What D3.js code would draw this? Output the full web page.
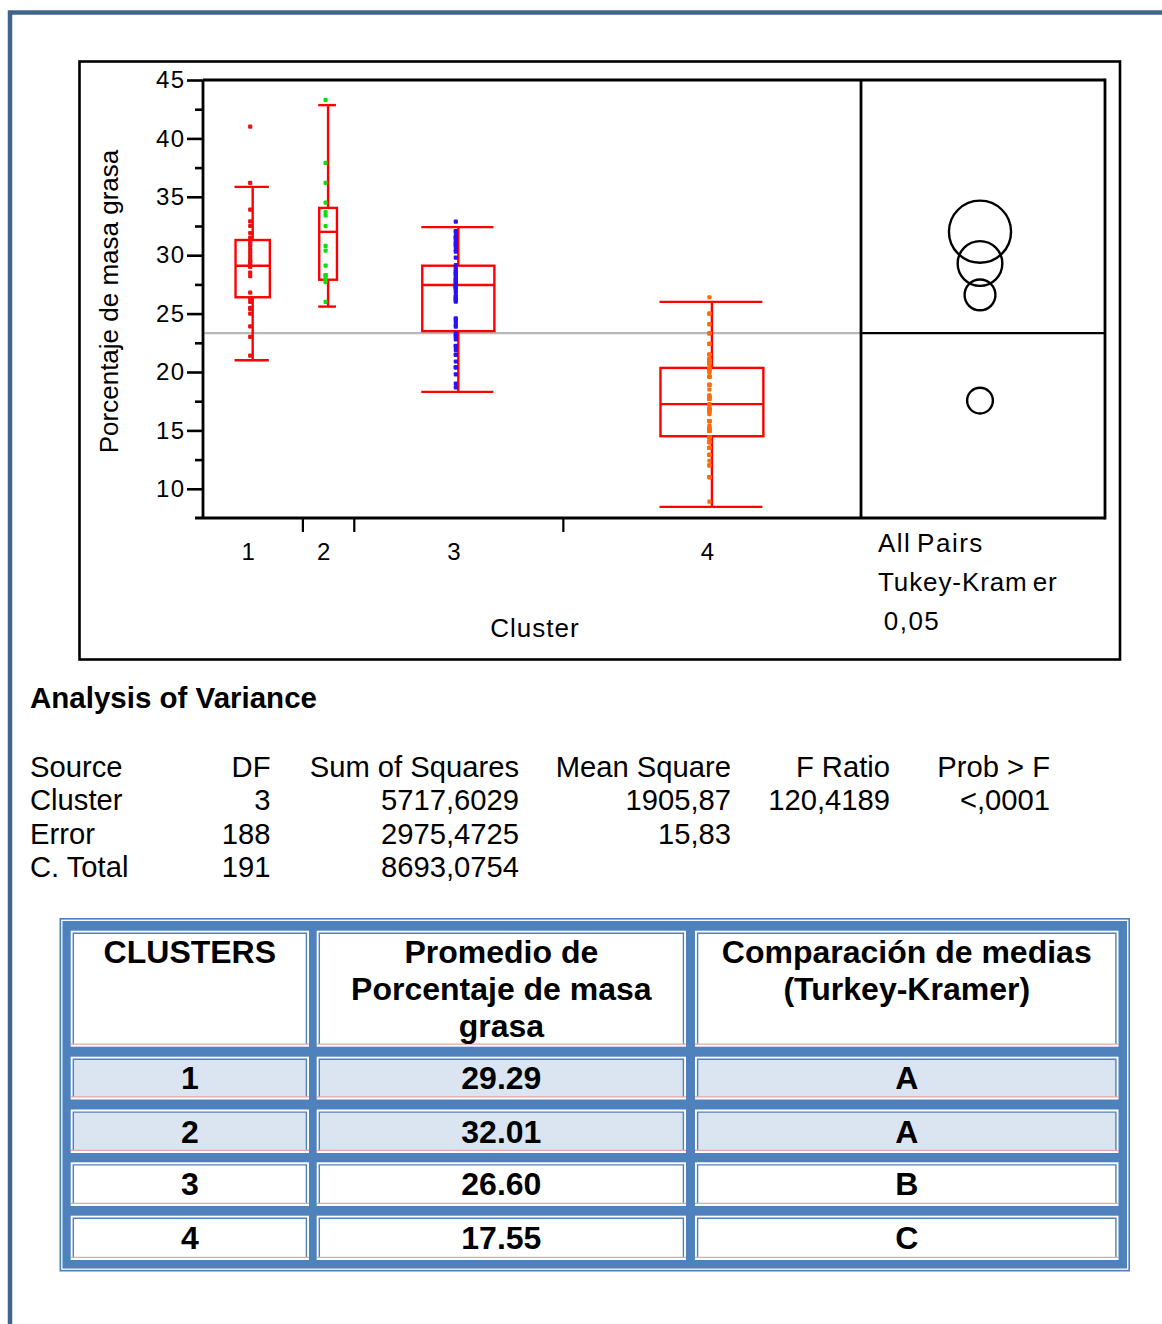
<!DOCTYPE html>
<html>
<head>
<meta charset="utf-8">
<script src="https://cdn.jsdelivr.net/npm/d3@7"></script>
<style>
  html, body { margin: 0; padding: 0; background: #ffffff; }
  svg { display: block; }
  text { font-family: "Liberation Sans", Arial, Helvetica, sans-serif; fill: #000; }
</style>
</head>
<body>
<svg id="page" width="1162" height="1324"></svg>
<script>
// ---------------- data ----------------
const clusters = ["1", "2", "3", "4"];
const clusterN = [29, 15, 61, 87];

const pointsCluster1 = [41.0, 36.2, 33.9, 32.9, 32.5, 31.9, 31.5, 31.2, 31.0, 30.2, 29.9, 29.6, 29.3, 29.0,
  28.5, 28.2, 26.8, 26.0, 25.4, 23.9, 21.4, 23.0, 25.0, 25.5, 26.3, 29.5, 29.1, 30.5, 30.8];
const pointsCluster2 = [43.3, 37.9, 36.2, 34.5, 33.7, 33.4, 32.5, 30.8, 30.4, 29.1, 28.3, 27.7, 26.0, 28.3, 28.0];
const pointsCluster3 = [32.87, 32.07, 31.5, 31.3, 31.07, 30.79, 30.45, 30.3, 29.79, 29.16, 28.59, 28.39, 27.93,
  27.73, 27.3, 27.16, 26.45, 26.22, 26.02, 24.6, 24.3, 24.02, 23.88, 23.08, 22.23, 21.46, 20.4, 18.69,
  32.0, 31.5, 31.0, 31.65, 30.8,
  23.3, 23.1, 22.8, 22.2, 21.9, 21.5, 20.9, 20.4, 19.8, 19.0,
  29.0, 28.8, 28.6, 28.4, 28.2, 28.0, 27.8, 27.6, 27.5, 27.4, 27.3, 27.2, 27.0, 26.8, 26.5, 26.3, 26.1, 24.5];
const pointsCluster4 = [26.4, 25.0, 25.0, 24.1, 24.1, 23.3, 23.3, 22.4, 22.4, 21.5, 21.5, 21.5, 21.1, 21.1,
  21.0, 21.0, 20.9, 20.9, 20.8, 20.8, 20.7, 20.7,
  20.3, 20.3, 20.3, 20.2, 20.2, 20.0, 20.0, 19.6, 19.6, 19.6, 19.6, 18.9, 18.9, 18.9, 18.5, 18.0,
  17.7, 17.7, 17.7, 17.9, 17.9,
  17.26, 17.0, 16.8, 16.8, 16.8, 16.8, 16.4, 16.6, 15.8, 15.8, 15.8, 15.8, 15.4, 15.2, 14.95, 14.95,
  14.95, 14.95, 15.2, 15.0, 15.1, 16.6,
  14.4, 14.4, 14.4, 14.4, 14.4, 14.0, 14.0, 14.0, 14.0, 13.5, 13.5, 13.5, 12.9, 12.9, 12.9, 12.4,
  12.0, 12.0, 11.0, 11.0, 11.0, 8.9];
const pointSeries = [pointsCluster1, pointsCluster2, pointsCluster3, pointsCluster4];

const whiskerLow  = [21.0, 25.6, 18.3, 8.45];
const quartile1   = [26.4, 27.9, 23.5, 14.5];
const medians     = [29.1, 32.0, 27.45, 17.25];
const quartile3   = [31.3, 34.05, 29.1, 20.35];
const whiskerHigh = [35.85, 42.85, 32.4, 26.0];

const meanValues   = [29.29, 32.01, 26.60, 17.55];
const meanLabels   = ["29.29", "32.01", "26.60", "17.55"];
const groupLetters = ["A", "A", "B", "C"];

const yTickValues  = [10, 15, 20, 25, 30, 35, 40, 45];
const yMinorValues = [12.5, 17.5, 22.5, 27.5, 32.5, 37.5, 42.5];

const mse = 15.83;          // Error mean square
const tukeyQStar = 2.588;   // q* for 4 groups, 188 df, alpha 0.05
const legendLines = ["All Pairs", "Tukey-Kram er", " 0,05"];

const anovaHeader = ["Source", "DF", "Sum of Squares", "Mean Square", "F Ratio", "Prob > F"];
const anovaSource = ["Cluster", "Error", "C. Total"];
const anovaDF     = ["3", "188", "191"];
const anovaSS     = ["5717,6029", "2975,4725", "8693,0754"];
const anovaMS     = ["1905,87", "15,83", ""];
const anovaF      = ["120,4189", "", ""];
const anovaP      = ["<,0001", "", ""];

const tableHeaderLines = [["CLUSTERS"], ["Promedio de", "Porcentaje de masa", "grasa"],
  ["Comparación de medias", "(Turkey-Kramer)"]];

// ---------------- styles ----------------
const pointColors = ["#ee1111", "#11dd11", "#2a12f5", "#ff6a0a"];
const boxRed = "#ff0000";
const tableBlue = "#4f81bd";
const lightRow = "#dbe5f1";
const pinkRule = "#e8a4a4";
const FONT = '"Liberation Sans", Arial, Helvetica, sans-serif';

const svg = d3.select("#page");

// page frame
svg.append("rect")
  .attr("x", 10).attr("y", 12.5).attr("width", 1200).attr("height", 1400)
  .attr("fill", "none").attr("stroke", "#41648f").attr("stroke-width", 4.5);

// chart frame
svg.append("rect")
  .attr("x", 79.5).attr("y", 61.5).attr("width", 1040.5).attr("height", 598)
  .attr("fill", "#fff").attr("stroke", "#000").attr("stroke-width", 2.6);

// ---------------- scales ----------------
const plotLeft = 203, plotRight = 861, plotTop = 80, plotBottom = 518, panelRight = 1105;
const y = d3.scaleLinear().domain([7.5, 45]).range([plotBottom, plotTop]);
const totalN = d3.sum(clusterN);
const x = d3.scaleLinear().domain([0, totalN]).range([plotLeft, plotRight]);
const cumN = d3.cumsum(clusterN);
const bandStart = clusterN.map((n, i) => cumN[i] - n);
const centers = clusterN.map((n, i) => bandStart[i] + n / 2);
const grandMean = d3.sum(meanValues.map((m, i) => m * clusterN[i])) / totalN;

const plot = svg.append("g");

// grand mean reference line
plot.append("line")
  .attr("x1", plotLeft).attr("x2", plotRight)
  .attr("y1", y(grandMean)).attr("y2", y(grandMean))
  .attr("stroke", "#b8b8b8").attr("stroke-width", 2.4);

// box plots
const boxes = plot.selectAll("g.box").data(clusters).join("g").attr("class", "box");
boxes.each(function (c, i) {
  const g = d3.select(this);
  const cx = x(centers[i]);
  const w = (x(cumN[i]) - x(bandStart[i])) * 0.345;
  const ln = (x1, y1, x2, y2) => g.append("line")
    .attr("x1", x1).attr("y1", y1).attr("x2", x2).attr("y2", y2)
    .attr("stroke", boxRed).attr("stroke-width", 2.4);
  ln(cx, y(whiskerHigh[i]), cx, y(quartile3[i]));
  ln(cx, y(quartile1[i]), cx, y(whiskerLow[i]));
  ln(cx - w / 2 - 1, y(whiskerHigh[i]), cx + w / 2 - 1, y(whiskerHigh[i]));
  ln(cx - w / 2 - 1, y(whiskerLow[i]), cx + w / 2 - 1, y(whiskerLow[i]));
  g.append("rect")
    .attr("x", cx - w / 2).attr("y", y(quartile3[i]))
    .attr("width", w).attr("height", y(quartile1[i]) - y(quartile3[i]))
    .attr("fill", "none").attr("stroke", boxRed).attr("stroke-width", 2.4);
  ln(cx - w / 2, y(medians[i]), cx + w / 2, y(medians[i]));
});

// data points
pointSeries.forEach((vals, i) => {
  const px = x(centers[i]) - 2.5;
  plot.append("g").selectAll("rect").data(vals).join("rect")
    .attr("x", px - 2.1).attr("y", d => y(d) - 2.1)
    .attr("width", 4.2).attr("height", 4.2).attr("rx", 1)
    .attr("fill", pointColors[i]);
});

// y axis: major and minor ticks
const yAxis = d3.axisLeft(y).tickValues(yTickValues).tickSize(16).tickSizeOuter(0).tickPadding(3)
  .tickFormat(d3.format("d"));
const yAxisG = svg.append("g").attr("transform", `translate(${plotLeft},0)`).call(yAxis);
yAxisG.select(".domain").remove();
yAxisG.selectAll(".tick line").attr("stroke", "#000").attr("stroke-width", 2.6);
yAxisG.selectAll(".tick text").attr("font-size", 24).attr("font-family", FONT)
  .attr("letter-spacing", 1.3).attr("dx", 1.3).attr("fill", "#000");

const yMinorAxis = d3.axisLeft(y).tickValues(yMinorValues).tickSize(8).tickSizeOuter(0).tickFormat("");
const yMinorG = svg.append("g").attr("transform", `translate(${plotLeft},0)`).call(yMinorAxis);
yMinorG.select(".domain").remove();
yMinorG.selectAll(".tick line").attr("stroke", "#000").attr("stroke-width", 2.6);

// axis lines and comparison panel frame
const frame = svg.append("g").attr("stroke", "#000").attr("stroke-width", 2.8).attr("fill", "none");
frame.append("line").attr("x1", plotLeft).attr("x2", panelRight).attr("y1", plotTop).attr("y2", plotTop);
frame.append("line").attr("x1", plotLeft).attr("x2", plotLeft).attr("y1", plotTop).attr("y2", plotBottom);
frame.append("line").attr("x1", 195).attr("x2", panelRight).attr("y1", plotBottom).attr("y2", plotBottom);
frame.append("line").attr("x1", plotRight).attr("x2", plotRight).attr("y1", plotTop).attr("y2", plotBottom);
frame.append("line").attr("x1", panelRight).attr("x2", panelRight).attr("y1", plotTop - 1.4).attr("y2", plotBottom + 1.4);

// x axis: group boundaries as ticks, group labels at band centres
const xBoundAxis = d3.axisBottom(x).tickValues(cumN.slice(0, -1)).tickSize(14).tickSizeOuter(0).tickFormat("");
const xb = svg.append("g").attr("transform", `translate(0,${plotBottom})`).call(xBoundAxis);
xb.select(".domain").remove();
xb.selectAll(".tick line").attr("stroke", "#000").attr("stroke-width", 2.2);

const xLabelAxis = d3.axisBottom(x).tickValues(centers).tickSize(0).tickSizeOuter(0)
  .tickFormat((d, i) => clusters[i]);
const xl = svg.append("g").attr("transform", `translate(-5,${plotBottom})`).call(xLabelAxis);
xl.select(".domain").remove();
xl.selectAll(".tick text").attr("font-size", 24).attr("font-family", FONT).attr("fill", "#000")
  .attr("y", 0).attr("dy", 0).attr("transform", "translate(0,42)");

// axis titles
svg.append("text").attr("x", 535).attr("y", 637).attr("text-anchor", "middle")
  .attr("font-size", 26).attr("letter-spacing", 1).text("Cluster");
svg.append("text").attr("transform", `translate(118,${(150 + 453) / 2}) rotate(-90)`)
  .attr("text-anchor", "middle").attr("font-size", 26).text("Porcentaje de masa grasa");

// comparison circles panel
const circleX = (plotRight + panelRight) / 2 - 3;
svg.append("line").attr("x1", plotRight).attr("x2", panelRight)
  .attr("y1", y(grandMean)).attr("y2", y(grandMean))
  .attr("stroke", "#000").attr("stroke-width", 2.4);
const pxPerUnit = y(0) - y(1);
svg.append("g").selectAll("circle").data(clusters).join("circle")
  .attr("cx", circleX)
  .attr("cy", (c, i) => y(meanValues[i]))
  .attr("r", (c, i) => tukeyQStar * Math.sqrt(mse / clusterN[i]) * pxPerUnit)
  .attr("fill", "none").attr("stroke", "#000").attr("stroke-width", 2.4);

// legend for comparison circles
svg.append("g").selectAll("text").data(legendLines).join("text")
  .attr("x", 878).attr("y", (d, i) => 552 + i * 39)
  .attr("font-size", 26).attr("letter-spacing", (d, i) => i === 1 ? 0.9 : 1.5)
  .attr("word-spacing", -3)
  .attr("xml:space", "preserve").style("white-space", "pre")
  .text(d => d);

// ---------------- analysis of variance ----------------
svg.append("text").attr("x", 30).attr("y", 708).attr("font-size", 29.5).attr("font-weight", "bold")
  .text("Analysis of Variance");

const colRight = [null, 270.5, 519, 731, 890, 1050];
const rowBase = [776.5, 810, 843.5, 877];
const anovaG = svg.append("g").attr("font-size", 29.2);
anovaHeader.forEach((h, j) => {
  anovaG.append("text").attr("x", j === 0 ? 30 : colRight[j]).attr("y", rowBase[0])
    .attr("text-anchor", j === 0 ? "start" : "end").text(h);
});
const anovaCols = [anovaSource, anovaDF, anovaSS, anovaMS, anovaF, anovaP];
anovaSource.forEach((s, r) => {
  anovaCols.forEach((col, j) => {
    if (!col[r]) return;
    anovaG.append("text").attr("x", j === 0 ? 30 : colRight[j]).attr("y", rowBase[r + 1])
      .attr("text-anchor", j === 0 ? "start" : "end").text(col[r]);
  });
});

// ---------------- summary table ----------------
const tbl = svg.append("g");
const tX0 = 59.5, tY0 = 918, tX1 = 1130, tY1 = 1271.5;
tbl.append("rect").attr("x", tX0).attr("y", tY0).attr("width", tX1 - tX0).attr("height", tY1 - tY0)
  .attr("fill", tableBlue);
tbl.append("rect").attr("x", tX0 + 2.3).attr("y", tY0 + 2.3)
  .attr("width", tX1 - tX0 - 4.6).attr("height", tY1 - tY0 - 4.6)
  .attr("fill", "none").attr("stroke", "#fff").attr("stroke-width", 1.3);

const colEdges = [[70.7, 309], [316.7, 686], [695, 1118.5]];
const rowEdges = [[930.7, 1046.7], [1056.7, 1099.5], [1109.5, 1153], [1162.3, 1206], [1215.7, 1260]];
const rowFills = ["#fff", lightRow, lightRow, "#fff", "#fff"];

rowEdges.forEach(([ry0, ry1], r) => {
  colEdges.forEach(([cx0, cx1]) => {
    tbl.append("rect").attr("x", cx0).attr("y", ry0).attr("width", cx1 - cx0).attr("height", ry1 - ry0)
      .attr("fill", "#fff");
    const ix0 = cx0 + 2.6, iy0 = ry0 + 2.6, ix1 = cx1 - 2.6, iy1 = ry1 - 2.6;
    tbl.append("rect").attr("x", ix0).attr("y", iy0).attr("width", ix1 - ix0).attr("height", iy1 - iy0)
      .attr("fill", rowFills[r]);
    tbl.append("path").attr("d", `M${ix0},${iy1}V${iy0}H${ix1}V${iy1}`)
      .attr("fill", "none").attr("stroke", tableBlue).attr("stroke-width", 1.4);
    tbl.append("line").attr("x1", cx0).attr("x2", cx1).attr("y1", iy1).attr("y2", iy1)
      .attr("stroke", pinkRule).attr("stroke-width", 1.2);
  });
});

// header text
tableHeaderLines.forEach((lines, j) => {
  const cx = (colEdges[j][0] + colEdges[j][1]) / 2;
  lines.forEach((t, k) => {
    tbl.append("text").attr("x", cx).attr("y", 963 + k * 37).attr("text-anchor", "middle")
      .attr("font-size", 32).attr("font-weight", "bold").text(t);
  });
});

// body rows
clusters.forEach((c, i) => {
  const [ry0, ry1] = rowEdges[i + 1];
  const by = (ry0 + ry1) / 2 + 11.3;
  [c, meanLabels[i], groupLetters[i]].forEach((t, j) => {
    const cx = (colEdges[j][0] + colEdges[j][1]) / 2;
    tbl.append("text").attr("x", cx).attr("y", by).attr("text-anchor", "middle")
      .attr("font-size", 32).attr("font-weight", "bold").text(t);
  });
});
</script>
</body>
</html>
